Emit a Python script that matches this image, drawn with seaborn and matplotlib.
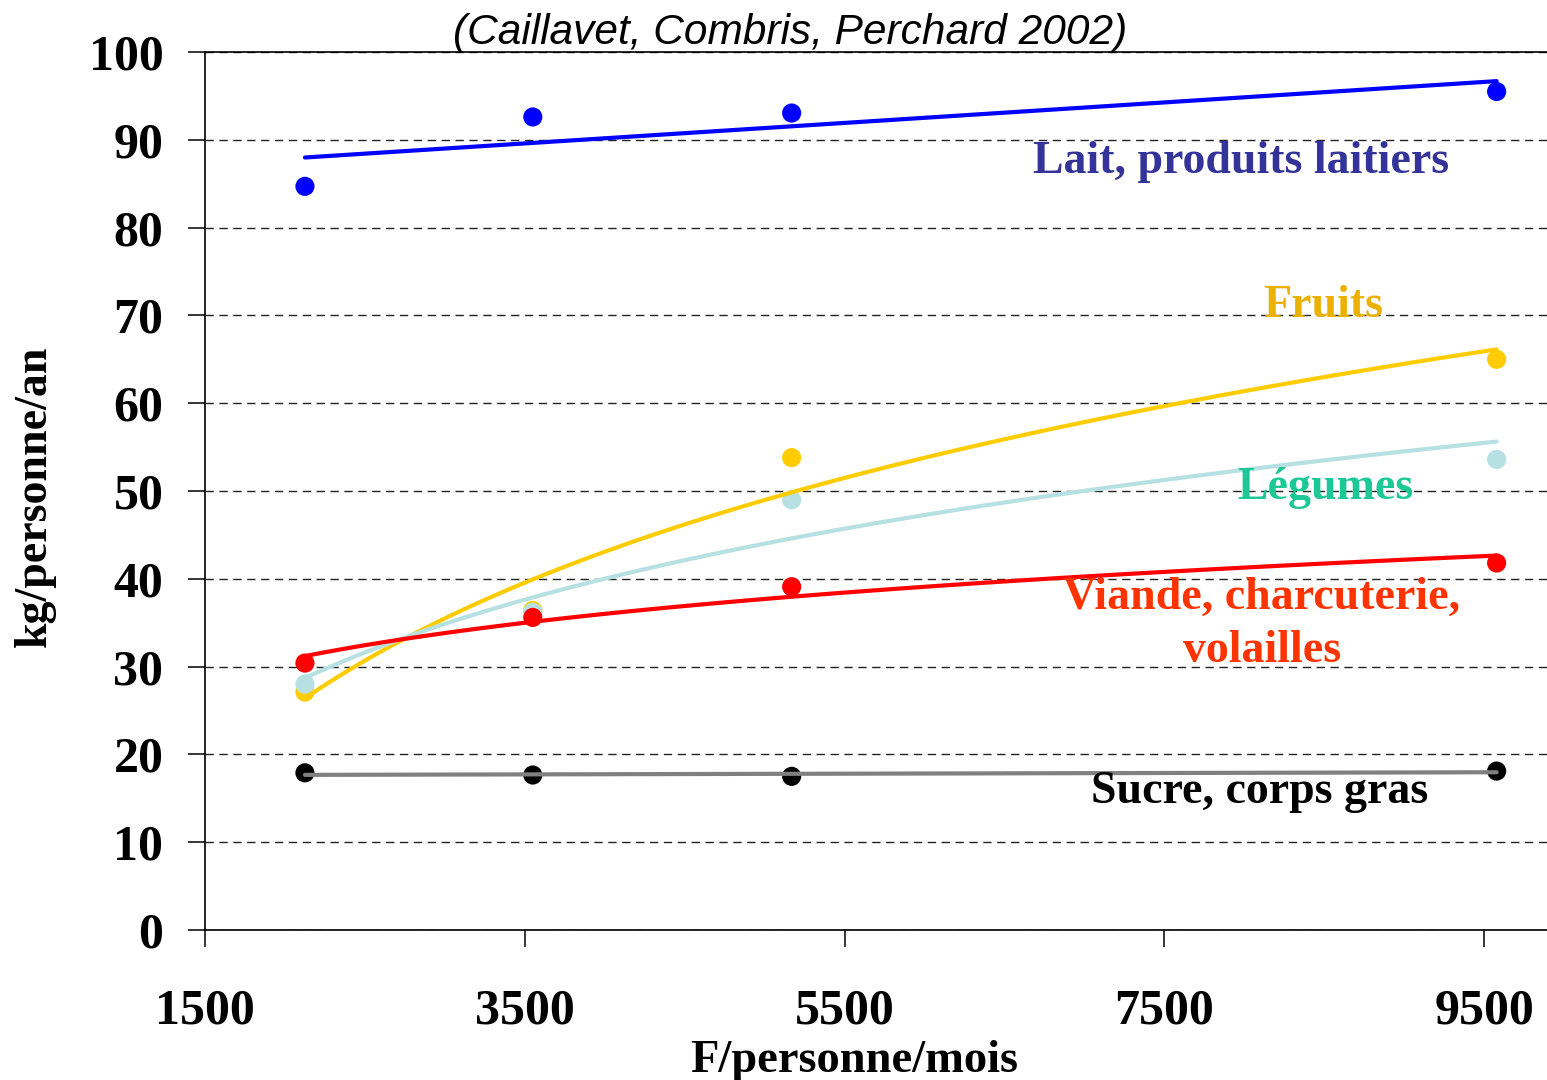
import seaborn as sns
import matplotlib
matplotlib.use("Agg")
import matplotlib.pyplot as plt
import pandas as pd

# revenu (F/personne/mois) et consommation (kg/personne/an)
revenu = [2125, 3550, 5169, 9578]
lait = [84.7, 92.6, 93.05, 95.5]
fruits = [27.1, 36.4, 53.8, 65.0]
legumes = [28.0, 36.2, 49.0, 53.6]
viande = [30.4, 35.6, 39.1, 41.8]
sucre = [17.9, 17.65, 17.5, 18.1]

series = ["Lait, produits laitiers", "Fruits", "Légumes",
          "Viande, charcuterie,\nvolailles", "Sucre, corps gras"]
point_colors = ["#0000FF", "#FFCC00", "#B7E0E3", "#FF0000", "#000000"]
line_colors = ["#0000FF", "#FFCC00", "#B7E0E3", "#FF0000", "#808080"]
label_colors = ["#333399", "#EBB000", "#1CC896", "#FF3300", "#000000"]
log_trend = [False, True, True, True, False]

data = pd.DataFrame({"revenu": revenu * 5,
                     "kg": lait + fruits + legumes + viande + sucre,
                     "serie": [s for s in series for _ in revenu]})

sns.set_theme(style="ticks")
plt.rcParams["font.family"] = ["Liberation Serif", "DejaVu Serif"]
plt.rcParams["text.color"] = "black"
plt.rcParams["axes.labelcolor"] = "black"
plt.rcParams["xtick.color"] = "black"
plt.rcParams["ytick.color"] = "black"

fig = plt.figure(figsize=(15.47, 10.8), dpi=100)
ax = fig.add_axes([205/1547, 150/1080, 1 - 205/1547, 878/1080])

# points first, trend lines on top (like the Excel original)
sns.scatterplot(data=data, x="revenu", y="kg", hue="serie", hue_order=series,
                palette=point_colors, s=190, linewidth=0, legend=False, ax=ax, zorder=3)
for i, s in enumerate(series):
    sub = data[data.serie == s]
    sns.regplot(data=sub, x="revenu", y="kg", logx=log_trend[i], ci=None,
                scatter=False, ax=ax, color=line_colors[i],
                line_kws={"lw": 3.0, "zorder": 4})

ax.set_xlim(1500, 9893)
ax.set_ylim(0, 100)
ax.set_xticks([1500, 3500, 5500, 7500, 9500])
ax.set_yticks(range(0, 101, 10))
ax.yaxis.grid(True, color="#222222", lw=1.0, linestyle=(0, (6, 4)))
ax.set_axisbelow(True)
for sp in ["left", "bottom", "top"]:
    ax.spines[sp].set_linewidth(1.2)
    ax.spines[sp].set_color("black")
ax.spines["right"].set_visible(False)
ax.tick_params(axis="both", direction="out", length=12, width=1.1, color="black",
               labelcolor="black")
ax.tick_params(axis="x", pad=30)
ax.tick_params(axis="y", pad=18)
for lab in ax.get_xticklabels() + ax.get_yticklabels():
    lab.set_fontsize(36)
    lab.set_fontweight("bold")

ax.set_xlabel("F/personne/mois", fontsize=33.5, fontweight="bold", color="black")
ax.xaxis.set_label_coords((854 - 205) / 1342, -0.125)
ax.set_ylabel("")
fig.text(35/1547, 1 - 496/1080, "kg/personne/an", rotation=90, fontsize=33,
         fontweight="bold", ha="center", va="center", color="black")

fig.text(790/1547, 1 - 33/1080, "(Caillavet, Combris, Perchard 2002)",
         family=["Liberation Sans", "DejaVu Sans"], style="italic",
         fontsize=30.5, ha="center", va="center", color="black")

label_pos = [(7979, 87.5), (8492, 71.1), (8504, 50.3), (8110, 34.8), (8098, 15.7)]
for i, s in enumerate(series):
    ax.text(label_pos[i][0], label_pos[i][1], s, color=label_colors[i],
            fontsize=33, fontweight="bold", ha="center", va="center",
            linespacing=1.36, zorder=5)

fig.savefig("out.png", dpi=100)
